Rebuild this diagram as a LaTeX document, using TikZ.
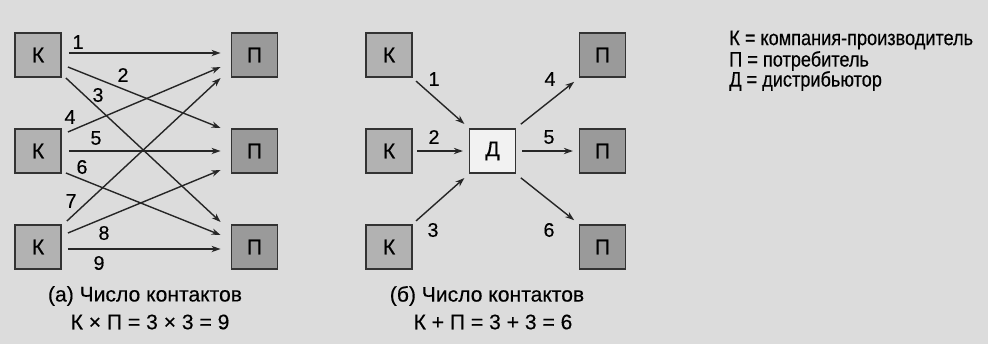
\documentclass[tikz,border=0pt]{standalone}
\usepackage{fontspec}
\setmainfont{Liberation Sans}
\newfontfamily\diagfont[FakeBold=0.3]{Liberation Sans}
\newfontfamily\legendfont[FakeStretch=0.86,FakeBold=0.3]{Liberation Sans}
\usepackage{tikz}
\usetikzlibrary{calc,arrows.meta}

\definecolor{paper}{HTML}{DCDCDC}
\definecolor{kgray}{HTML}{B2B2B2}
\definecolor{pgray}{HTML}{9A9A9A}
\definecolor{dwhite}{HTML}{F2F2F2}

\tikzset{
    box/.style={draw=black!80, line width=1.3pt, minimum width=1.15cm, minimum height=1.12cm,
        inner sep=0pt, font=\diagfont\fontsize{15}{17}\selectfont},
    kbox/.style={box, fill=kgray},
    pbox/.style={box, fill=pgray},
    dbox/.style={box, fill=dwhite},
    arr/.style={-{Stealth[length=6.5pt,width=4.5pt]}, line width=1pt, black!85},
    num/.style={inner sep=0pt, font=\diagfont\fontsize{14}{16}\selectfont},
    txt/.style={inner sep=0pt, font=\diagfont\fontsize{15}{17}\selectfont},
    legend/.style={inner sep=0pt, anchor=west, font=\legendfont\fontsize{15}{17}\selectfont}
}

\begin{document}
\begin{tikzpicture}[x=0.025cm, y=-0.025cm]
                    \fill[paper] (0,0) rectangle (988,344);

                    % (a) every company to every consumer
                    \node[kbox] (k1) at (38,55) {К};
                    \node[kbox] (k2) at (38,151) {К};
                    \node[kbox] (k3) at (38,247) {К};
                    \node[pbox] (p1) at (254.5,55) {П};
                    \node[pbox] (p2) at (254.5,151) {П};
                    \node[pbox] (p3) at (254.5,247) {П};

                    \draw[arr] ($(k1.east)+(7,-2)$) -- ($(p1.west)+(-10,-2)$);
                    \draw[arr] ($(k1.east)+(6,12)$) -- ($(p2.west)+(-10,-23)$);
                    \draw[arr] ($(k1.east)+(4,23)$) -- ($(p3.west)+(-10,-25)$);
                    \draw[arr] ($(k2.east)+(6,-19)$) -- ($(p1.west)+(-10,12)$);
                    \draw[arr] ($(k2.east)+(7,0)$) -- ($(p2.west)+(-10,0)$);
                    \draw[arr] ($(k2.east)+(4,22)$) -- ($(p3.west)+(-10,-12)$);
                    \draw[arr] ($(k3.east)+(5,-26)$) -- ($(p1.west)+(-10,23)$);
                    \draw[arr] ($(k3.east)+(6,-14)$) -- ($(p2.west)+(-10,19)$);
                    \draw[arr] ($(k3.east)+(6,2)$) -- ($(p3.west)+(-10,2)$);

                    \node[num] (l1) at (78,42) {1};
                    \node[num] (l2) at (123,75) {2};
                    \node[num] (l3) at (98,95) {3};
                    \node[num] (l4) at (70,117) {4};
                    \node[num] (l5) at (96,138) {5};
                    \node[num] (l6) at (82,167) {6};
                    \node[num] (l7) at (71,201) {7};
                    \node[num] (l8) at (104,233) {8};
                    \node[num] (l9) at (99,263) {9};

                    \node[txt] (capa) at (145,296) {(а) Число контактов};
                    \node[txt] (suma) at (150,322) {К × П = 3 × 3 = 9};

                    % (б) everything goes through the distributor
                    \node[kbox] (mk1) at (389,55) {К};
                    \node[kbox] (mk2) at (389,151) {К};
                    \node[kbox] (mk3) at (389,247) {К};
                    \node[dbox] (d) at (492.5,151) {Д};
                    \node[pbox] (mp1) at (602.5,55) {П};
                    \node[pbox] (mp2) at (602.5,151) {П};
                    \node[pbox] (mp3) at (602.5,247) {П};

                    \draw[arr, shorten <=3pt, shorten >=4pt] (mk1.south east) -- (d.north west);
                    \draw[arr, shorten <=3pt, shorten >=4pt] (mk2.east) -- (d.west);
                    \draw[arr, shorten <=3pt, shorten >=4pt] (mk3.north east) -- (d.south west);
                    \draw[arr, shorten <=4pt, shorten >=4pt] (d.north east) -- (mp1.south west);
                    \draw[arr, shorten <=4pt, shorten >=4pt] (d.east) -- (mp2.west);
                    \draw[arr, shorten <=4pt, shorten >=4pt] (d.south east) -- (mp3.north west);

                    \node[num] (m1) at (434,79) {1};
                    \node[num] (m2) at (434,137) {2};
                    \node[num] (m3) at (433,230) {3};
                    \node[num] (m4) at (550,79) {4};
                    \node[num] (m5) at (549,137) {5};
                    \node[num] (m6) at (549,230) {6};

                    \node[txt] (capb) at (487,296) {(б) Число контактов};
                    \node[txt] (sumb) at (493,322) {К + П = 3 + 3 = 6};

                    % legend
                    \node[legend] (lk) at (729,40) {К = компания-производитель};
                    \node[legend] (lp) at (729,61) {П = потребитель};
                    \node[legend] (ld) at (729,81) {Д = дистрибьютор};
                \end{tikzpicture}
\end{document}
